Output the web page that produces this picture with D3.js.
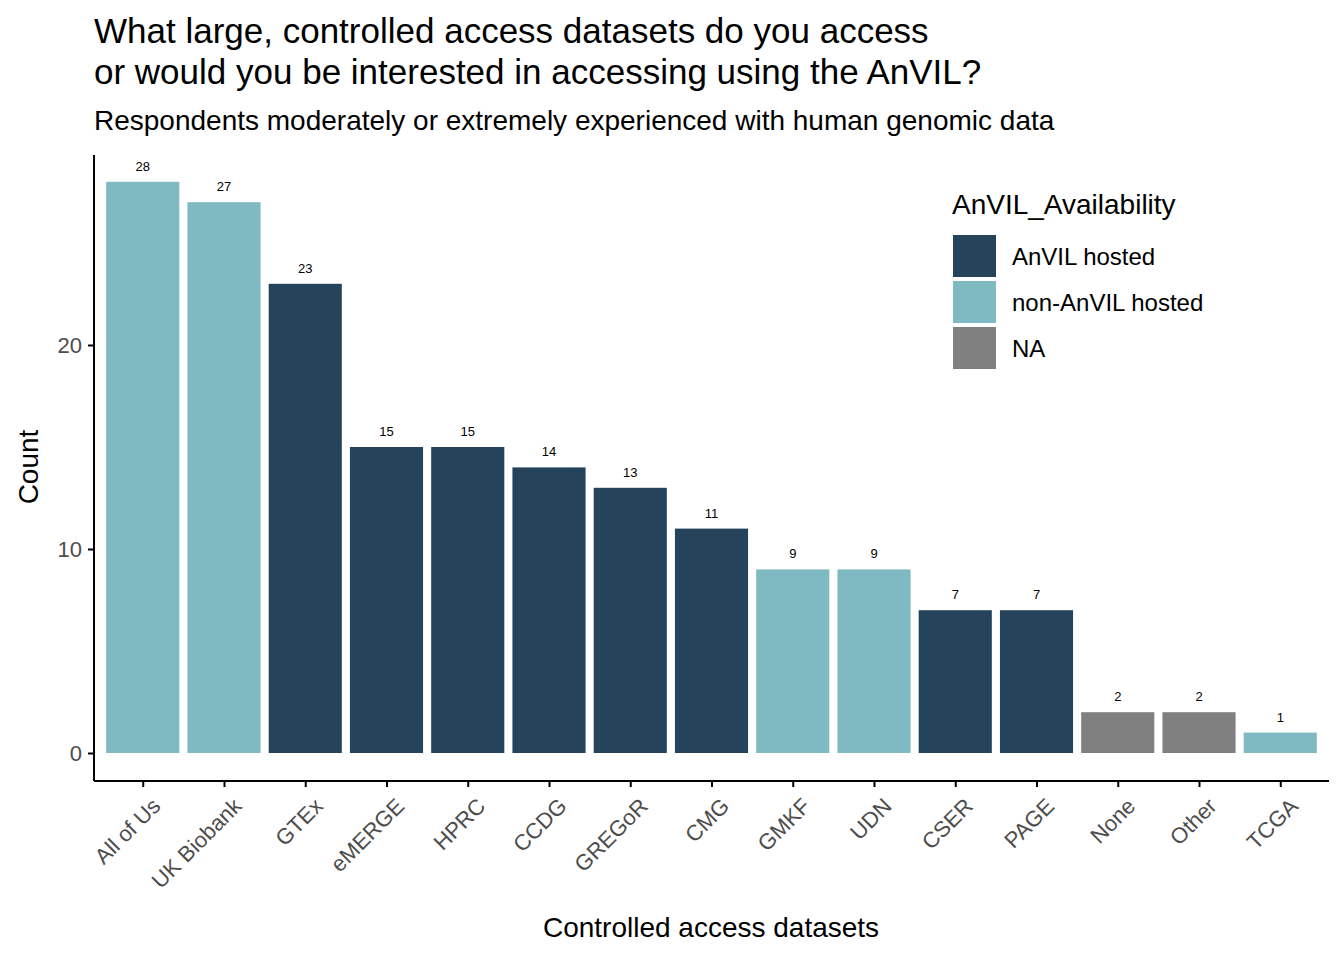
<!DOCTYPE html>
<html><head><meta charset="utf-8">
<script src="https://cdnjs.cloudflare.com/ajax/libs/d3/7.8.5/d3.min.js"></script>
<style>
body{margin:0;background:#fff;font-family:"Liberation Sans",Arial,sans-serif;}
.axis text{fill:#4d4d4d;font-size:22px;font-family:"Liberation Sans",Arial,sans-serif;}
.axis path,.axis line{stroke:#000;stroke-width:2;}
</style></head>
<body><script>
var datasets=["All of Us","UK Biobank","GTEx","eMERGE","HPRC","CCDG","GREGoR","CMG","GMKF","UDN","CSER","PAGE","None","Other","TCGA"];
var counts=[28,27,23,15,15,14,13,11,9,9,7,7,2,2,1];
var availability=["non-AnVIL hosted","non-AnVIL hosted","AnVIL hosted","AnVIL hosted","AnVIL hosted","AnVIL hosted","AnVIL hosted","AnVIL hosted","non-AnVIL hosted","non-AnVIL hosted","AnVIL hosted","AnVIL hosted","NA","NA","non-AnVIL hosted"];
var legendKeys=["AnVIL hosted","non-AnVIL hosted","NA"];
var colors=["#25435a","#7fb9c1","#808080"];
var yTicks=[0,10,20];

var w=1344,h=960;
var svg=d3.select("body").append("svg").attr("width",w).attr("height",h);
var color=d3.scaleOrdinal().domain(legendKeys).range(colors);
var x=d3.scalePoint().domain(datasets).range([94,1329]).padding(0.6);
var bw=x.step()*0.9;
var y=d3.scaleLinear().domain([0,28]).range([753,753-28*20.4]);

svg.selectAll("rect.bar").data(datasets).enter().append("rect")
  .attr("x",function(d){return x(d)-bw/2;})
  .attr("y",function(d,i){return y(counts[i]);})
  .attr("width",bw)
  .attr("height",function(d,i){return y(0)-y(counts[i]);})
  .attr("fill",function(d,i){return color(availability[i]);});

svg.selectAll("text.val").data(datasets).enter().append("text")
  .attr("x",function(d){return x(d);})
  .attr("y",function(d,i){return y(counts[i])-11;})
  .attr("text-anchor","middle").attr("font-size","13px")
  .text(function(d,i){return counts[i];});

svg.append("g").attr("class","axis").attr("transform","translate(94,0)")
  .call(d3.axisLeft(y).tickValues(yTicks).tickSize(6).tickPadding(6))
  .call(function(g){g.select(".domain").attr("d","M0,155V781");});
var xa=svg.append("g").attr("class","axis").attr("transform","translate(0,781)")
  .call(d3.axisBottom(x).tickSize(6).tickPadding(4));
xa.select(".domain").attr("d","M94,0H1329");
xa.selectAll("text").attr("text-anchor","end").attr("dy","0.35em")
  .attr("transform","translate(6,14) rotate(-45)");

svg.append("text").attr("x",711).attr("y",937).attr("text-anchor","middle").attr("font-size","28px").text("Controlled access datasets");
svg.append("text").attr("transform","translate(38,467) rotate(-90)").attr("text-anchor","middle").attr("font-size","28px").text("Count");

svg.append("text").attr("x",94).attr("y",43).attr("font-size","35px").text("What large, controlled access datasets do you access");
svg.append("text").attr("x",94).attr("y",84).attr("font-size","35px").text("or would you be interested in accessing using the AnVIL?");
svg.append("text").attr("x",94).attr("y",130).attr("font-size","28px").text("Respondents moderately or extremely experienced with human genomic data");

var lg=svg.append("g").attr("transform","translate(952,0)");
lg.append("text").attr("x",0).attr("y",214).attr("font-size","28px").text("AnVIL_Availability");
lg.selectAll("rect").data(legendKeys).enter().append("rect")
  .attr("x",1).attr("y",function(d,i){return 235+i*46;}).attr("width",43).attr("height",42)
  .attr("fill",function(d){return color(d);});
lg.selectAll("text.k").data(legendKeys).enter().append("text")
  .attr("x",60).attr("y",function(d,i){return 265+i*46;}).attr("font-size","24px").text(function(d){return d;});
</script></body></html>
